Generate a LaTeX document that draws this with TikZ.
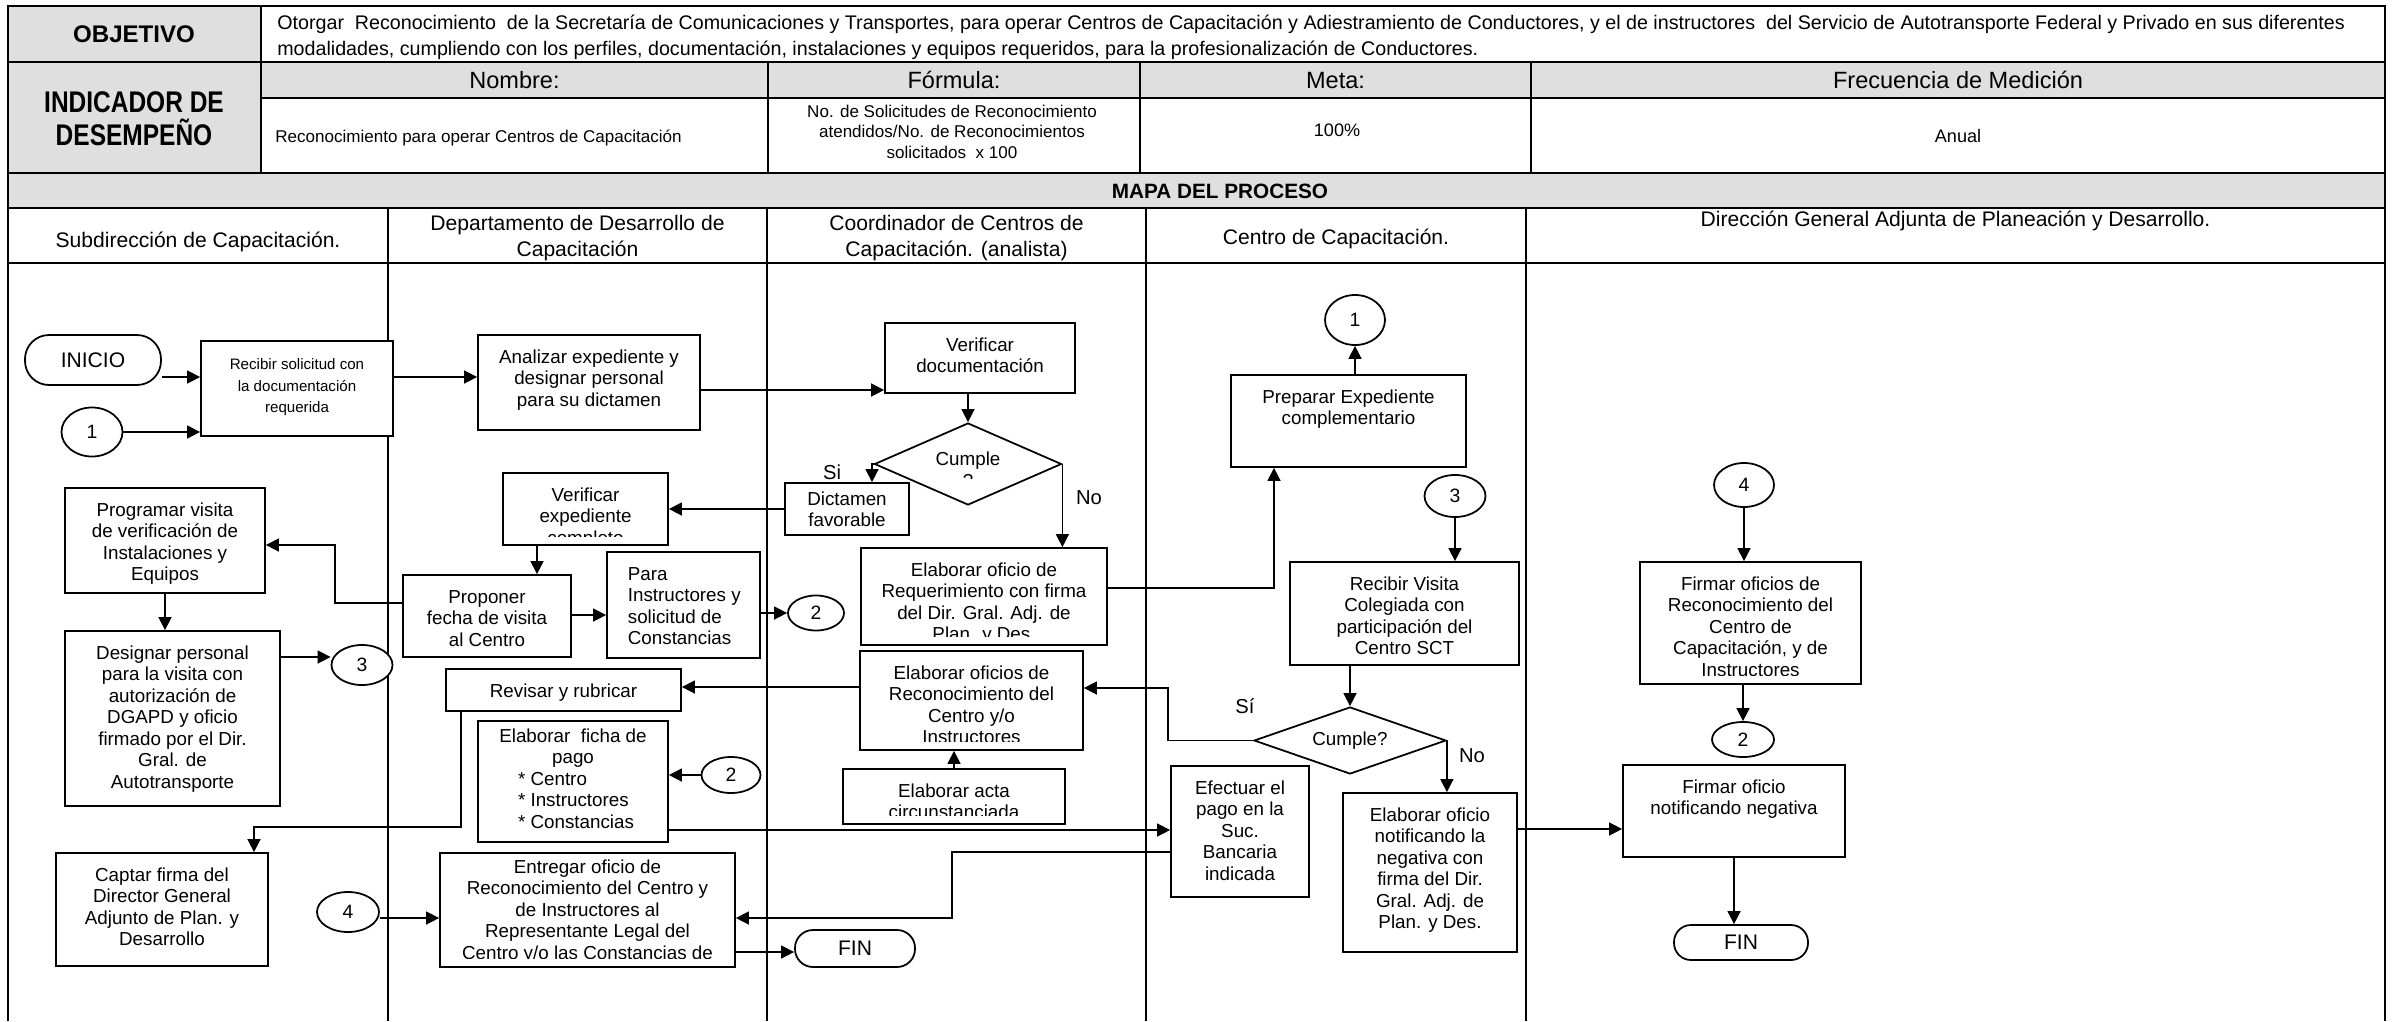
\documentclass[tikz,border=0pt]{standalone}
\usepackage{fontspec}
\setmainfont{Liberation Sans}
\newfontfamily\narrowfont[FakeStretch=0.82]{Liberation Sans}
\usetikzlibrary{shapes.geometric, arrows.meta}

\definecolor{headgrey}{HTML}{DFDFDF}

\newcommand{\boxfont}{\fontsize{10.7}{12.2}\selectfont}
\newcommand{\smallboxfont}{\fontsize{8.6}{12.3}\selectfont}
\newcommand{\objfont}{\fontsize{11.2}{14.8}\selectfont}
\newcommand{\headfont}{\fontsize{13.4}{16}\selectfont}
\newcommand{\valfont}{\fontsize{9.7}{11.8}\selectfont}
\newcommand{\lanefont}{\fontsize{12}{14.8}\selectfont}
\newcommand{\fl}{\rule{0pt}{9pt}}

\tikzstyle{tableline} = [line width=1.15pt]
\tikzstyle{laneline} = [line width=0.75pt]
\tikzstyle{stepbox} = [rectangle, draw=black, fill=white, line width=1pt, inner sep=0pt]
\tikzstyle{terminal} = [rectangle, draw=black, fill=white, line width=1pt, inner sep=0pt, font=\fontsize{12}{14}\selectfont]
\tikzstyle{conn} = [ellipse, draw=black, fill=white, line width=1pt, inner sep=0pt, font=\fontsize{11}{13}\selectfont]
\tikzstyle{decision} = [diamond, aspect=2.9, draw=black, fill=white, line width=1pt, inner sep=0pt, font=\boxfont]
\tikzstyle{answer} = [inner sep=0pt, font=\fontsize{11.5}{13}\selectfont]
\tikzstyle{arrow} = [line width=0.85pt, -{Triangle[length=0.26cm, width=0.26cm]}]

\tikzset{
  sz/.style 2 args={minimum width=#1*0.02cm, minimum height=#2*0.02cm},
  toppad/.initial=0.234cm,
  boxfnt/.initial=\boxfont,
  boxtext/.style={path picture={
    \clip ([yshift=0.17cm]path picture bounding box.south west) rectangle (path picture bounding box.north east);
    \node[rectangle, anchor=north, align=center, inner sep=0pt, minimum width=0pt, minimum height=0pt,
      font=\pgfkeysvalueof{/tikz/boxfnt}]
      at ([yshift=-\pgfkeysvalueof{/tikz/toppad}]path picture bounding box.north) {\fl#1};}},
  boxtextl/.style={path picture={
    \clip ([yshift=0.17cm]path picture bounding box.south west) rectangle (path picture bounding box.north east);
    \node[rectangle, anchor=north west, align=left, inner sep=0pt, minimum width=0pt, minimum height=0pt,
      font=\pgfkeysvalueof{/tikz/boxfnt}]
      at ([xshift=0.4cm, yshift=-\pgfkeysvalueof{/tikz/toppad}]path picture bounding box.north west) {\fl#1};}}
}

\begin{document}
\begin{tikzpicture}[x=0.02cm, y=-0.02cm]

    \useasboundingbox (0,0) rectangle (2395,1021);

    % cuadro de encabezado
    \fill[headgrey] (8,6) rectangle (261,173);
    \fill[headgrey] (261,62) rectangle (2385,98);
    \fill[headgrey] (8,173) rectangle (2385,208);
    \draw[tableline] (8,1021) -- (8,6) -- (2385,6) -- (2385,1021);
    \foreach \y in {62,173,208,263}
        \draw[tableline] (8,\y) -- (2385,\y);
    \draw[tableline] (261,98) -- (2385,98);
    \draw[tableline] (261,6) -- (261,173);
    \foreach \x in {768,1140,1531}
        \draw[tableline] (\x,62) -- (\x,173);
    \foreach \x in {388,767,1146,1526}
        \draw[laneline] (\x,208) -- (\x,1021);

    \node (objlbl) [font=\bfseries\fontsize{13.7}{16}\selectfont] at (134,34) {OBJETIVO};
    \node (objtxt) [anchor=north west, align=left, inner sep=0pt, font=\objfont] at (277,13)
        {\fl Otorgar\ \ Reconocimiento\ \ de la Secretaría de Comunicaciones y Transportes, para operar Centros de Capacitación y Adiestramiento de Conductores, y el de instructores\ \ del Servicio de Autotransporte Federal y Privado en sus diferentes\\modalidades, cumpliendo con los perfiles, documentación, instalaciones y equipos requeridos, para la profesionalización de Conductores.};
    \node (indlbl) [anchor=north, align=center, inner sep=0pt, font=\narrowfont\bfseries\fontsize{17}{18.8}\selectfont] at (134,89)
        {\rule{0pt}{13pt}INDICADOR DE\\DESEMPEÑO};

    \node (hnombre) [anchor=base, font=\headfont] at (514.5,88) {Nombre:};
    \node (hformula) [anchor=base, font=\headfont] at (954,88) {Fórmula:};
    \node (hmeta) [anchor=base, font=\headfont] at (1335.5,88) {Meta:};
    \node (hfrec) [anchor=base, font=\headfont] at (1958,88) {Frecuencia de Medición};

    \node (vnombre) [anchor=base west, inner sep=0pt, font=\valfont] at (275,142) {Reconocimiento para operar Centros de Capacitación};
    \node (vformula) [anchor=north, align=center, inner sep=0pt, font=\valfont] at (952,101)
        {\fl No. de Solicitudes de Reconocimiento\\atendidos/No. de Reconocimientos\\solicitados\ \ x 100};
    \node (vmeta) [anchor=base, font=\fontsize{10.3}{12}\selectfont] at (1337,136.5) {100\%};
    \node (vfrec) [anchor=base, font=\fontsize{10.3}{12}\selectfont] at (1958,142.5) {Anual};

    \node (mapa) [anchor=base, font=\bfseries\fontsize{11.8}{14}\selectfont] at (1220,198) {MAPA DEL PROCESO};

    \node (lane1) [anchor=base, font=\lanefont] at (198,247) {Subdirección de Capacitación.};
    \node (lane2) [anchor=north, align=center, inner sep=0pt, font=\lanefont] at (577.5,214) {\fl Departamento de Desarrollo de\\Capacitación};
    \node (lane3) [anchor=north, align=center, inner sep=0pt, font=\lanefont] at (956.5,214) {\fl Coordinador de Centros de\\Capacitación. (analista)};
    \node (lane4) [anchor=base, font=\lanefont] at (1336,244) {Centro de Capacitación.};
    \node (lane5) [anchor=base, font=\lanefont] at (1955.5,226) {Dirección General Adjunta de Planeación y Desarrollo.};

    % Subdireccion de Capacitacion
    \node (inicio) [terminal, sz={136}{50}, rounded corners=0.48cm] at (93,360) {INICIO};
    \node (c1a) [conn, sz={61}{49}] at (92,432) {1};
    \node (recibir) [stepbox, sz={192}{95}, boxfnt=\smallboxfont, boxtext={Recibir solicitud con\\la documentación\\requerida}] at (297,388.5) {};
    \node (programa) [stepbox, sz={200}{105}, boxtext={Programar visita\\de verificación de\\Instalaciones y\\Equipos}] at (165,540.5) {};
    \node (designa) [stepbox, sz={215}{175}, boxtext={Designar personal\\para la visita con\\autorización de\\DGAPD y oficio\\firmado por el Dir.\\Gral. de\\Autotransporte}] at (172.5,718.5) {};
    \node (c3a) [conn, sz={61}{40}] at (362,665) {3};
    \node (captar) [stepbox, sz={212}{113}, boxtext={Captar firma del\\Director General\\Adjunto de Plan. y\\Desarrollo}] at (162,909.5) {};

    % Departamento de Desarrollo de Capacitacion
    \node (analiza) [stepbox, sz={222}{95}, boxtext={Analizar expediente y\\designar personal\\para su dictamen}] at (589,382.5) {};
    \node (vexped) [stepbox, sz={165}{72}, boxtext={Verificar\\expediente\\completo}] at (585.5,509) {};
    \node (proponer) [stepbox, sz={168}{82}, boxtext={Proponer\\fecha de visita\\al Centro}] at (487,616) {};
    \node (para) [stepbox, sz={153}{106}, boxtextl={Para\\Instructores y\\solicitud de\\Constancias}] at (683.5,605) {};
    \node (revisa) [stepbox, sz={235}{42}, boxtext={Revisar y rubricar}] at (563.5,690) {};
    \node (ficha) [stepbox, sz={190}{121}, toppad=0.094cm, boxtext={Elaborar\ \ ficha de\\pago\\\makebox[2.2cm][l]{* Centro}\\\makebox[2.2cm][l]{* Instructores}\\\makebox[2.2cm][l]{* Constancias}}] at (573,781.5) {};
    \node (c2b) [conn, sz={59}{36}] at (731,775) {2};
    \node (c4a) [conn, sz={62}{40}] at (348,912) {4};
    \node (entrega) [stepbox, sz={295}{114}, toppad=0.074cm, boxtext={Entregar oficio de\\Reconocimiento del Centro y\\de Instructores al\\Representante Legal del\\Centro y/o las Constancias de}] at (587.5,910) {};

    % Coordinador de Centros de Capacitacion
    \node (vdoc) [stepbox, sz={190}{70}, boxtext={Verificar\\documentación}] at (980,358) {};
    \node (dia1) [decision, sz={187}{82}, path picture={
        \clip (path picture bounding box.north west) rectangle ([yshift=-0.28cm]path picture bounding box.east);
        \node[rectangle, anchor=north, align=center, inner sep=0pt, minimum width=0pt, minimum height=0pt, font=\boxfont]
            at ([yshift=0.3cm]path picture bounding box.center) {\fl Cumple\\?};}] at (968,464) {};
    \node (si1) [answer] at (832,472) {Si};
    \node (no1) [answer] at (1089,498) {No};
    \node (dictamen) [stepbox, sz={124}{52}, toppad=0.11cm, boxtext={Dictamen\\favorable}] at (847,509) {};
    \node (c2a) [conn, sz={56}{35}] at (816,613) {2};
    \node (requer) [stepbox, sz={246}{97}, boxtext={Elaborar oficio de\\Requerimiento con firma\\del Dir. Gral. Adj. de\\Plan. y Des.}] at (984,596.5) {};
    \node (recono) [stepbox, sz={223}{99}, boxtext={Elaborar oficios de\\Reconocimiento del\\Centro y/o\\Instructores}] at (971.5,700.5) {};
    \node (acta) [stepbox, sz={222}{55}, boxtext={Elaborar acta\\circunstanciada}] at (954,796.5) {};
    \node (fin1) [terminal, sz={120}{37}, rounded corners=0.36cm] at (855,948.5) {FIN};

    % Centro de Capacitacion
    \node (c1b) [conn, sz={60}{50}] at (1355,320) {1};
    \node (prepara) [stepbox, sz={235}{92}, boxtext={Preparar Expediente\\complementario}] at (1348.5,421) {};
    \node (c3b) [conn, sz={61}{42}] at (1455,496) {3};
    \node (visita) [stepbox, sz={229}{103}, boxtext={Recibir Visita\\Colegiada con\\participación del\\Centro SCT}] at (1404.5,613.5) {};
    \node (dia2) [decision, sz={192}{67}] at (1350,740.5) {Cumple?};
    \node (si2) [answer] at (1245,706) {Sí};
    \node (no2) [answer] at (1472,756) {No};
    \node (efectua) [stepbox, sz={138}{131}, boxtext={Efectuar el\\pago en la\\Suc.\\Bancaria\\indicada}] at (1240,831.5) {};
    \node (notif) [stepbox, sz={174}{159}, boxtext={Elaborar oficio\\notificando la\\negativa con\\firma del Dir.\\Gral. Adj. de\\Plan. y Des.}] at (1430,872.5) {};

    % Direccion General Adjunta de Planeacion y Desarrollo
    \node (c4b) [conn, sz={60}{44}] at (1744,485) {4};
    \node (firreco) [stepbox, sz={221}{122}, boxtext={Firmar oficios de\\Reconocimiento del\\Centro de\\Capacitación, y de\\Instructores}] at (1750.5,623) {};
    \node (c2c) [conn, sz={62}{35}] at (1743,739.5) {2};
    \node (firneg) [stepbox, sz={222}{92}, boxtext={Firmar oficio\\notificando negativa}] at (1734,811) {};
    \node (fin2) [terminal, sz={134}{35}, rounded corners=0.34cm] at (1741,942.5) {FIN};

    % conectores
    \draw[arrow] (inicio.east |- 0,377) -- (recibir.west |- 0,377);
    \draw[arrow] (c1a.east) -- (c1a.east -| recibir.west);
    \draw[arrow] (recibir.east |- 0,377) -- (analiza.west |- 0,377);
    \draw[arrow] (analiza.east |- 0,390) -- (vdoc.west |- 0,390);
    \draw[arrow] (dia1.north |- vdoc.south) -- (dia1.north);
    \draw[arrow] (dia1.west) -| (872,0 |- dictamen.north);
    \draw[arrow] (dia1.east) -- (dia1.east |- requer.north);
    \draw[arrow] (dictamen.west) -- (dictamen.west -| vexped.east);
    \draw[arrow] (537,0 |- vexped.south) -- (537,0 |- proponer.north);
    \draw[arrow] (proponer.west |- 0,603) -| (335,545) -- (programa.east |- 0,545);
    \draw[arrow] (proponer.east |- 0,615) -- (para.west |- 0,615);
    \draw[arrow] (para.east |- c2a.west) -- (c2a.west);
    \draw[arrow] (programa.south) -- (programa.south |- designa.north);
    \draw[arrow] (designa.east |- 0,657) -- (c3a.west |- 0,657);
    \draw[arrow] (requer.east |- 0,588) -| (1274,0 |- prepara.south);
    \draw[arrow] (prepara.north -| c1b.south) -- (c1b.south);
    \draw[arrow] (c3b.south) -- (c3b.south |- visita.north);
    \draw[arrow] (1350,0 |- visita.south) -- (dia2.north);
    \draw[arrow] (dia2.west) -| (1168,688) -- (recono.east |- 0,688);
    \draw[arrow] (dia2.east) -- (dia2.east |- notif.north);
    \draw[arrow] (recono.west |- 0,687) -- (revisa.east |- 0,687);
    \draw[arrow] (acta.north) -- (acta.north |- recono.south);
    \draw[arrow] (revisa.south west) ++(16,0) |- (254,827) -- (254,0 |- captar.north);
    \draw[arrow] (c2b.west) -- (c2b.west -| ficha.east);
    \draw[arrow] (ficha.east |- 0,830) -- (efectua.west |- 0,830);
    \draw[arrow] (efectua.west |- 0,852) -| (952,918) -- (entrega.east |- 0,918);
    \draw[arrow] (c4a.east |- 0,918) -- (entrega.west |- 0,918);
    \draw[arrow] (entrega.east |- 0,952) -- (fin1.west |- 0,952);
    \draw[arrow] (notif.east |- 0,829) -- (firneg.west |- 0,829);
    \draw[arrow] (c4b.south) -- (c4b.south |- firreco.north);
    \draw[arrow] (c2c.north |- firreco.south) -- (c2c.north);
    \draw[arrow] (firneg.south) -- (firneg.south |- fin2.north);

\end{tikzpicture}
\end{document}
